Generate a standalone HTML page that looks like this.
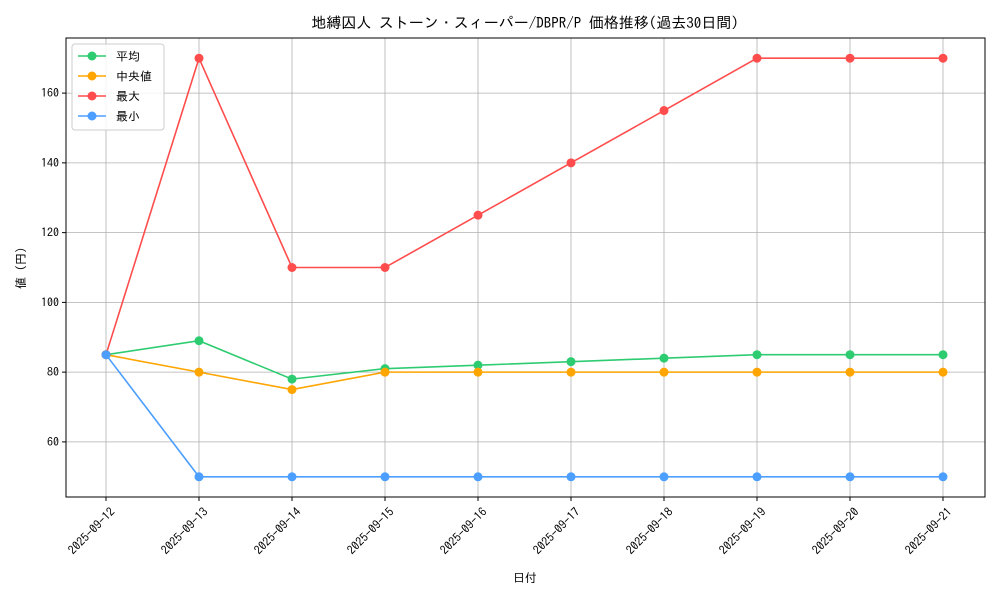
<!DOCTYPE html>
<html><head><meta charset="utf-8">
<style>
body{margin:0;background:#fff;}
svg{display:block;font-family:"IPAGothic","Noto Sans CJK JP",sans-serif;}
</style></head>
<body>
<svg id="chart" width="1000" height="600" xmlns="http://www.w3.org/2000/svg">
<text x="525" y="28" text-anchor="middle" font-size="15" fill="#000">地縛囚人 ストーン・スィーパー/DBPR/P 価格推移(過去30日間)</text>
<text x="525" y="582" text-anchor="middle" font-size="12">日付</text>
<text x="0" y="0" transform="translate(25,268) rotate(-90)" text-anchor="middle" font-size="12">値 (円)</text>
<g id="grid"></g><g id="axes"></g><g id="series"></g><g id="legend"></g>
</svg>
<script>
const categories=["2025-09-12","2025-09-13","2025-09-14","2025-09-15","2025-09-16","2025-09-17","2025-09-18","2025-09-19","2025-09-20","2025-09-21"];
const meanValues=[85,89,78,81,82,83,84,85,85,85];
const medianValues=[85,80,75,80,80,80,80,80,80,80];
const maxValues=[85,170,110,110,125,140,155,170,170,170];
const minValues=[85,50,50,50,50,50,50,50,50,50];
const yTicks=[60,80,100,120,140,160];
const seriesNames=["平均","中央値","最大","最小"];

const NS="http://www.w3.org/2000/svg";
const L=66,R=985,T=38,B=497;
const yMin=44.2,yMax=175.8;
function xs(i){return 106+i*(943-106)/(categories.length-1);}
function ys(v){return B-(v-yMin)/(yMax-yMin)*(B-T);}
function mk(tag,attrs,parent){const e=document.createElementNS(NS,tag);for(const k in attrs)e.setAttribute(k,attrs[k]);parent.appendChild(e);return e;}
const grid=document.getElementById('grid'),axes=document.getElementById('axes'),ser=document.getElementById('series'),leg=document.getElementById('legend');

categories.forEach((c,i)=>{
  const x=xs(i);
  const g=mk('line',{x1:x,x2:x,y1:T,y2:B,stroke:'#b0b0b0','stroke-width':0.8},grid);
  
  
  const t=mk('line',{x1:x,x2:x,y1:B,y2:B+4,stroke:'#000'},axes);
  
  
  const lb=mk('text',{x:0,y:0,transform:`translate(${x+4},${B+10}) rotate(-45)`,'text-anchor':'end','dominant-baseline':'hanging','font-size':12},axes);
  lb.textContent=c;
  
  
});
yTicks.forEach(v=>{
  const y=ys(v);
  const g=mk('line',{x1:L,x2:R,y1:y,y2:y,stroke:'#b0b0b0','stroke-width':0.8},grid);
  
  
  const t=mk('line',{x1:L-4,x2:L,y1:y,y2:y,stroke:'#000'},axes);
  
  
  const lb=mk('text',{x:L-7,y:y+4,'text-anchor':'end','font-size':12},axes);
  lb.textContent=v;
  
  
});
const frame=mk('rect',{x:L,y:T,width:R-L,height:B-T,fill:'none',stroke:'#000','stroke-width':1},axes);



const all=[[meanValues,'#2ecc71','mean'],[medianValues,'#ffa500','median'],[maxValues,'#ff4d4d','max'],[minValues,'#4d9fff','min']];
all.forEach(([vals,col,key])=>{
  const g=mk('g',{},ser);
  
  
  const pl=mk('polyline',{points:vals.map((v,i)=>xs(i)+','+ys(v)).join(' '),fill:'none',stroke:col,'stroke-width':1.6},g);
  
  
  vals.forEach((v,i)=>{
    const c=mk('circle',{cx:xs(i),cy:ys(v),r:4.5,fill:col},g);
    
    
  });
});

const box=mk('rect',{x:72,y:44,width:92,height:86,rx:3,fill:'#fff','fill-opacity':0.85,stroke:'#ccc'},leg);


all.forEach(([v,col,key],i)=>{
  const y=56+i*20;
  const g=mk('g',{},leg);
  
  
  mk('line',{x1:78,x2:106,y1:y,y2:y,stroke:col,'stroke-width':1.6},g);
  mk('circle',{cx:92,cy:y,r:4.5,fill:col},g);
  const t=mk('text',{x:116,y:y+4.5,'font-size':12},g);
  t.textContent=seriesNames[i];
});
</script>
</body></html>
